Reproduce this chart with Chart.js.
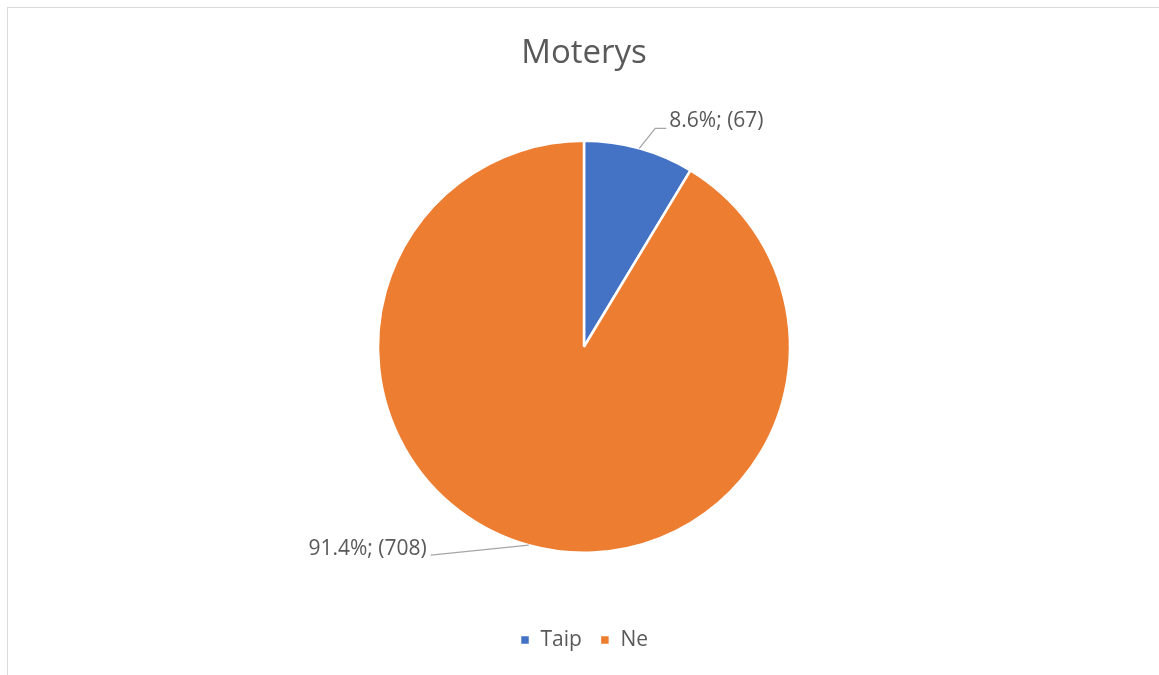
<!DOCTYPE html>
<html>
<head>
<meta charset="utf-8">
<script src="https://cdn.jsdelivr.net/npm/chart.js@4/dist/chart.umd.min.js"></script>
<style>
  html, body { margin: 0; padding: 0; background: #fff; overflow: hidden; }
  #frame {
    position: absolute; left: 7px; top: 7px; width: 1152px; height: 668px;
    border-left: 1px solid #d9d9d9; border-top: 1px solid #d9d9d9;
  }
  #wrap { position: absolute; left: 0; top: 0; width: 1159px; height: 675px; }
</style>
</head>
<body>
<div id="frame"></div>
<div id="wrap"><canvas id="chart"></canvas></div>
<script>
const chartTitle = 'Moterys'
const categories = ['Taip', 'Ne']
const counts = [67, 708]
const sliceColors = ['#4472C4', '#ED7D31']

const textColor = '#595959'
const fontFamily = "'Open Sans', sans-serif"

// leader line shape for each slice label (offsets from slice edge)
const leaderShapes = [
  { dx: 16, dy: -20, run: 11, align: 'left', textDy: -7 },
  { dx: -98, dy: 10, run: 0, align: 'right', textDy: -6 }
]

const dataLabels = {
  id: 'dataLabels',
  afterDatasetsDraw(chart) {
    const ctx = chart.ctx
    const meta = chart.getDatasetMeta(0)
    const total = counts.reduce((a, b) => a + b, 0)
    ctx.save()
    meta.data.forEach((arc, i) => {
      const mid = (arc.startAngle + arc.endAngle) / 2
      const r = arc.outerRadius
      const x0 = arc.x + Math.cos(mid) * r
      const y0 = arc.y + Math.sin(mid) * r
      const shape = leaderShapes[i]
      const x1 = x0 + shape.dx
      const y1 = y0 + shape.dy
      const x2 = x1 + (shape.align === 'left' ? shape.run : -shape.run)

      ctx.strokeStyle = '#A6A6A6'
      ctx.lineWidth = 1.3
      ctx.beginPath()
      ctx.moveTo(x0, y0)
      ctx.lineTo(x1, y1)
      ctx.lineTo(x2, y1)
      ctx.stroke()

      const pct = (counts[i] / total * 100).toFixed(1)
      ctx.fillStyle = textColor
      ctx.font = '21px ' + fontFamily
      ctx.textBaseline = 'middle'
      ctx.textAlign = shape.align
      const tx = shape.align === 'left' ? x2 + 3 : x2 - 4
      ctx.fillText(pct + '%; (' + counts[i] + ')', tx, y1 + shape.textDy)
    })
    ctx.restore()
  }
}

new Chart(document.getElementById('chart'), {
  type: 'pie',
  data: {
    labels: categories,
    datasets: [{
      data: counts,
      backgroundColor: sliceColors,
      borderColor: '#ffffff',
      borderWidth: 2.5,
      hoverOffset: 0
    }]
  },
  options: {
    responsive: true,
    maintainAspectRatio: false,
    animation: false,
    radius: 206,
    layout: {
      padding: { left: 9, right: 0, top: 0, bottom: 14.5 }
    },
    plugins: {
      title: {
        display: true,
        text: chartTitle,
        color: textColor,
        font: { family: fontFamily, size: 33, weight: 'normal', lineHeight: 1.2 },
        padding: { top: 34, bottom: 8.4 }
      },
      legend: {
        position: 'bottom',
        labels: {
          color: textColor,
          font: { family: fontFamily, size: 21 },
          boxWidth: 10,
          boxHeight: 10,
          padding: 18
        }
      },
      tooltip: { enabled: false }
    }
  },
  plugins: [dataLabels]
})
</script>
</body>
</html>
